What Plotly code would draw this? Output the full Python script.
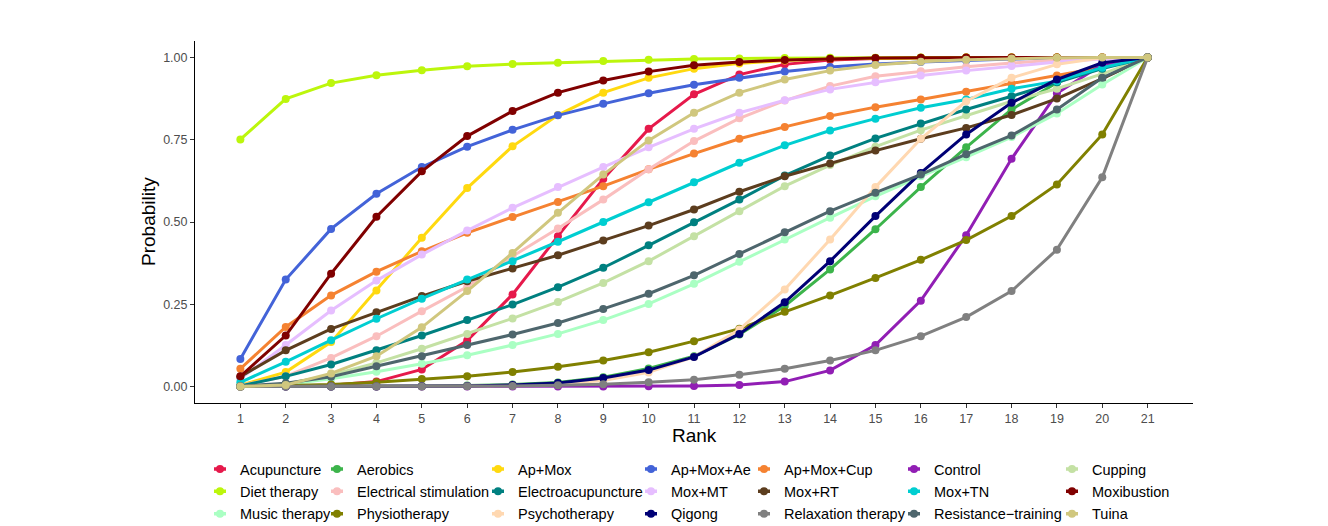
import plotly.graph_objects as go

ranks = list(range(1, 22))

treatments = ["Acupuncture", "Aerobics", "Ap+Mox", "Ap+Mox+Ae", "Ap+Mox+Cup", "Control", "Cupping",
              "Diet therapy", "Electrical stimulation", "Electroacupuncture", "Mox+MT", "Mox+RT", "Mox+TN", "Moxibustion",
              "Music therapy", "Physiotherapy", "Psychotherapy", "Qigong", "Relaxation therapy", "Resistance\u2212training", "Tuina"]

colors = ["#E6194B", "#3CB44B", "#FFD90F", "#4363D8", "#F58231", "#911EB4", "#C4E1A4",
          "#BCF60C", "#FABEBE", "#008080", "#E6BEFF", "#5C3D1E", "#00CED1", "#800000",
          "#AAFFC3", "#808000", "#FFD8B1", "#000075", "#808080", "#4E666D", "#D0C77E"]

acupuncture = [0.000, 0.001, 0.004, 0.015, 0.052, 0.140, 0.280, 0.457, 0.631, 0.783, 0.888, 0.948, 0.979, 0.992, 0.997, 0.999, 1, 1, 1, 1, 1]
aerobics = [0, 0, 0, 0.001, 0.002, 0.003, 0.006, 0.012, 0.028, 0.055, 0.092, 0.158, 0.245, 0.356, 0.478, 0.606, 0.727, 0.842, 0.923, 0.979, 1]
ap_mox = [0.004, 0.044, 0.135, 0.292, 0.452, 0.603, 0.730, 0.825, 0.893, 0.938, 0.966, 0.982, 0.991, 0.996, 0.998, 0.999, 1, 1, 1, 1, 1]
ap_mox_ae = [0.084, 0.325, 0.479, 0.586, 0.667, 0.729, 0.780, 0.824, 0.859, 0.891, 0.917, 0.938, 0.957, 0.971, 0.980, 0.986, 0.991, 0.995, 0.998, 0.999, 1]
ap_mox_cup = [0.054, 0.181, 0.277, 0.349, 0.411, 0.467, 0.515, 0.561, 0.609, 0.660, 0.708, 0.753, 0.789, 0.822, 0.849, 0.872, 0.896, 0.920, 0.945, 0.970, 1]
control = [0, 0, 0, 0, 0, 0, 0, 0, 0, 0.001, 0.002, 0.005, 0.015, 0.049, 0.126, 0.261, 0.460, 0.692, 0.891, 0.979, 1]
cupping = [0.0, 0.008, 0.035, 0.072, 0.115, 0.160, 0.207, 0.257, 0.315, 0.381, 0.457, 0.533, 0.609, 0.673, 0.729, 0.779, 0.824, 0.867, 0.905, 0.950, 1]
diet_therapy = [0.751, 0.874, 0.922, 0.946, 0.961, 0.973, 0.980, 0.984, 0.989, 0.993, 0.995, 0.997, 0.998, 0.999, 0.999, 1, 1, 1, 1, 1, 1]
electrical_stimulation = [0.003, 0.031, 0.087, 0.153, 0.229, 0.303, 0.396, 0.480, 0.568, 0.660, 0.746, 0.815, 0.869, 0.913, 0.943, 0.958, 0.972, 0.983, 0.992, 0.997, 1]
electroacupuncture = [0.002, 0.031, 0.067, 0.110, 0.155, 0.202, 0.249, 0.302, 0.361, 0.429, 0.499, 0.568, 0.641, 0.702, 0.754, 0.799, 0.842, 0.882, 0.925, 0.966, 1]
mox_mt = [0.024, 0.126, 0.231, 0.322, 0.401, 0.474, 0.543, 0.606, 0.667, 0.727, 0.783, 0.832, 0.870, 0.903, 0.925, 0.945, 0.960, 0.974, 0.986, 0.995, 1]
mox_rt = [0.030, 0.110, 0.175, 0.226, 0.275, 0.320, 0.359, 0.399, 0.444, 0.489, 0.538, 0.592, 0.639, 0.678, 0.717, 0.753, 0.786, 0.825, 0.875, 0.936, 1]
mox_tn = [0.013, 0.075, 0.141, 0.206, 0.267, 0.325, 0.381, 0.440, 0.500, 0.560, 0.621, 0.680, 0.733, 0.778, 0.814, 0.847, 0.872, 0.905, 0.928, 0.969, 1]
moxibustion = [0.031, 0.155, 0.343, 0.516, 0.654, 0.761, 0.837, 0.893, 0.930, 0.957, 0.976, 0.986, 0.992, 0.996, 0.998, 0.999, 1, 1, 1, 1, 1]
music_therapy = [0.0, 0.006, 0.024, 0.045, 0.069, 0.095, 0.126, 0.160, 0.202, 0.251, 0.312, 0.379, 0.447, 0.513, 0.578, 0.639, 0.697, 0.758, 0.830, 0.918, 1]
physiotherapy = [0.0, 0.002, 0.006, 0.013, 0.023, 0.031, 0.044, 0.060, 0.079, 0.104, 0.138, 0.176, 0.227, 0.277, 0.330, 0.385, 0.445, 0.518, 0.614, 0.766, 1]
psychotherapy = [0, 0, 0, 0, 0.001, 0.002, 0.004, 0.008, 0.018, 0.043, 0.090, 0.173, 0.295, 0.447, 0.606, 0.753, 0.867, 0.938, 0.979, 0.999, 1]
qigong = [0, 0, 0, 0, 0.001, 0.002, 0.005, 0.011, 0.026, 0.050, 0.090, 0.160, 0.256, 0.381, 0.518, 0.649, 0.766, 0.862, 0.933, 0.984, 1]
relaxation_therapy = [0, 0, 0, 0, 0, 0.001, 0.002, 0.004, 0.007, 0.013, 0.021, 0.036, 0.054, 0.079, 0.110, 0.153, 0.211, 0.290, 0.416, 0.636, 1]
resistance_training = [0.001, 0.010, 0.030, 0.062, 0.092, 0.126, 0.158, 0.193, 0.236, 0.282, 0.338, 0.403, 0.469, 0.533, 0.589, 0.644, 0.706, 0.763, 0.842, 0.938, 1]
tuina = [0.0, 0.005, 0.040, 0.092, 0.180, 0.290, 0.406, 0.528, 0.644, 0.748, 0.832, 0.893, 0.933, 0.960, 0.977, 0.987, 0.993, 0.997, 0.999, 1, 1]

series = [acupuncture, aerobics, ap_mox, ap_mox_ae, ap_mox_cup, control, cupping,
          diet_therapy, electrical_stimulation, electroacupuncture, mox_mt, mox_rt, mox_tn, moxibustion,
          music_therapy, physiotherapy, psychotherapy, qigong, relaxation_therapy, resistance_training, tuina]

y_ticks = [0, 0.25, 0.5, 0.75, 1.0]
y_ticklabels = ["0.00", "0.25", "0.50", "0.75", "1.00"]

FONT = "Liberation Sans, Arial, sans-serif"
OFF = 8  # default page body margin
W, H = 1328 - OFF, 526 - OFF

fig = go.Figure()
# data curves
for name, vals, col in zip(treatments, series, colors):
    fig.add_trace(go.Scatter(
        x=ranks, y=vals, name=name, mode="lines+markers",
        line=dict(color=col, width=3),
        marker=dict(color=col, size=8),
        showlegend=False, legendgroup=name,
    ))
# legend keys (short line + dot), one legend per column, filled row by row
for i, (name, col) in enumerate(zip(treatments, colors)):
    lg = "legend" if i % 7 == 0 else "legend%d" % (i % 7 + 1)
    fig.add_trace(go.Scatter(
        x=[None], y=[None], name=name, mode="lines+markers",
        line=dict(color=col, width=3.5, dash="0px,9px,12px,100px"),
        marker=dict(color=col, size=8),
        legend=lg, legendgroup=name, hoverinfo="skip",
    ))

# page x where each legend column's text begins
col_text_px = [240, 357, 518, 671, 784, 934, 1092]
legend_top_page = 453
layout_legends = {}
for j, tx in enumerate(col_text_px):
    key = "legend" if j == 0 else "legend%d" % (j + 1)
    layout_legends[key] = dict(
        xref="container", yref="container",
        x=(tx - OFF - 40) / W, y=1 - (legend_top_page - OFF) / H,
        xanchor="left", yanchor="top",
        orientation="v",
        font=dict(family=FONT, size=14.5, color="#000000"),
        bgcolor="rgba(0,0,0,0)", borderwidth=0,
        itemwidth=30, tracegroupgap=0.5,
    )

plot_l, plot_r, plot_t, plot_b = 195 - OFF, 1193 - OFF, 41 - OFF, 403 - OFF
pw, ph = plot_r - plot_l, plot_b - plot_t

fig.update_layout(
    width=W, height=H,
    paper_bgcolor="white", plot_bgcolor="white",
    margin=dict(l=plot_l, r=W - plot_r, t=plot_t, b=H - plot_b, autoexpand=False),
    showlegend=True,
    font=dict(family=FONT),
    xaxis=dict(
        range=[0, 22], tickvals=ranks, ticktext=[str(r) for r in ranks],
        showline=True, linecolor="black", linewidth=1,
        ticks="outside", ticklen=4, tickcolor="#333333", tickwidth=1,
        showgrid=False, zeroline=False, automargin=False,
        tickfont=dict(family=FONT, size=12.5, color="#4D4D4D"),
    ),
    yaxis=dict(
        range=[-0.05, 1.05], tickvals=y_ticks, ticktext=y_ticklabels,
        showline=True, linecolor="black", linewidth=1,
        ticks="outside", ticklen=4, tickcolor="#333333", tickwidth=1,
        showgrid=False, zeroline=False, automargin=False,
        tickfont=dict(family=FONT, size=12.5, color="#4D4D4D"),
    ),
    annotations=[
        dict(text="Probability", xref="paper", yref="paper",
             x=(148 - OFF - plot_l) / pw, y=0.5, xanchor="center", yanchor="middle",
             textangle=-90, showarrow=False, font=dict(family=FONT, size=19, color="black")),
        dict(text="Rank", xref="paper", yref="paper",
             x=0.5, y=(plot_b - (435 - OFF)) / ph, xanchor="center", yanchor="middle",
             showarrow=False, font=dict(family=FONT, size=19, color="black")),
    ],
    **layout_legends,
)

fig.write_html("out.html")
